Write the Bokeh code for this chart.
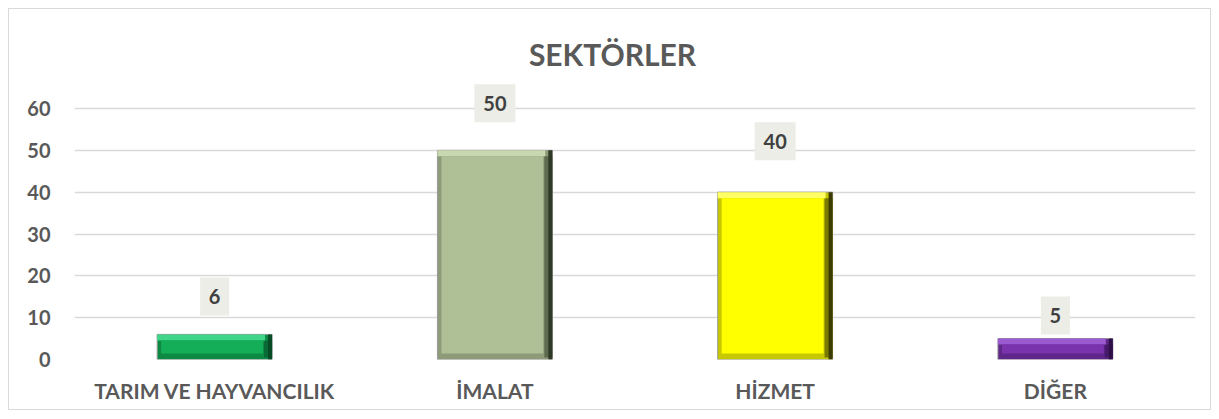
from bokeh.plotting import figure
from bokeh.models import ColumnDataSource, FactorRange, Range1d, FixedTicker, Label
from bokeh.transform import dodge
from bokeh.core.properties import value
from bokeh.embed import file_html
from bokeh.resources import INLINE
import numpy as np

# ---- data ----
categories = ["TARIM VE HAYVANCILIK", "İMALAT", "HİZMET", "DİĞER"]
values = [6, 50, 40, 5]
y_ticks = [0, 10, 20, 30, 40, 50, 60]
title_text = "SEKTÖRLER"

# ---- styles ----
face = ["#14ad58", "#afbf96", "#ffff00", "#7a32ad"]
light = ["#3fd68a", "#c8d8b0", "#ffff66", "#9b5ad0"]
mid = ["#0c8a44", "#8d9b78", "#c8c800", "#5e2688"]
shade = ["#0a6a35", "#5e6b50", "#7a7a00", "#46196a"]
dark = ["#064a26", "#2f3a26", "#3c3c00", "#2e0f48"]
label_offsets = [38, 47, 51, 23]  # px above bar top
FONT = "Lato"
TXT = "#595959"

W, H = 1203, 402
LEFT, RIGHT, TOP, BOTTOM = 65, 17, 12, 52
frame_w = W - LEFT - RIGHT
frame_h = H - TOP - BOTTOM
ppu_y = 251 / 60.0
y_end = frame_h / ppu_y
ppu_x = frame_w / len(categories)
bar_w = 0.41
px = 1.0 / ppu_x
py = 1.0 / ppu_y

p = figure(x_range=FactorRange(*categories), y_range=Range1d(0, y_end),
           width=W, height=H, output_backend="svg", toolbar_location=None,
           min_border_left=LEFT, min_border_right=RIGHT,
           min_border_top=TOP, min_border_bottom=BOTTOM)
p.styles = {"border": "1px solid #d9d9d9", "margin-left": "8px", "margin-top": "8px"}
p.outline_line_color = None
p.background_fill_color = "white"
p.border_fill_color = "white"

p.xgrid.grid_line_color = None
p.ygrid.grid_line_color = "#d9d9d9"
p.ygrid.grid_line_width = 1.5
p.yaxis.ticker = FixedTicker(ticks=y_ticks)
for ax in (p.xaxis, p.yaxis):
    ax.axis_line_color = None
    ax.major_tick_line_color = None
    ax.minor_tick_line_color = None
    ax.major_label_text_font = FONT
    ax.major_label_text_font_style = "bold"
    ax.major_label_text_color = TXT
    ax.major_label_text_font_size = "20px"
p.xaxis.major_label_text_font_size = "21px"
p.yaxis.major_label_standoff = 18
p.xaxis.major_label_standoff = 12

vals = np.array(values, dtype=float)
txt = [str(v) for v in values]
src = ColumnDataSource(dict(
    cat=categories, val=values, txt=txt,
    face=face, light=light, mid=mid, shade=shade, dark=dark,
    top_in=list(vals - 6 * py),
    lab_y=list(vals + np.array(label_offsets) * py),
    box_w=[17 + 12 * len(t) for t in txt],
))
half = bar_w / 2

# outer bevel (mid tone: left / bottom)
p.vbar(x="cat", top="val", bottom=0, width=bar_w, source=src,
       fill_color="mid", line_color="#9a9a9a", line_width=1)
# right edge: intermediate shade then darkest strip
p.vbar(x=dodge("cat", half - 4 * px, range=p.x_range), top="top_in", bottom=2 * py,
       width=8 * px, source=src, fill_color="shade", line_color=None)
p.vbar(x=dodge("cat", half - 2 * px, range=p.x_range), top="val", bottom=0,
       width=4 * px, source=src, fill_color="dark", line_color=None)
# top highlight band
p.vbar(x=dodge("cat", -3.5 * px, range=p.x_range), top="val", bottom="top_in",
       width=bar_w - 7 * px, source=src, fill_color="light", line_color=None)
# main face
p.vbar(x=dodge("cat", -2.5 * px, range=p.x_range), top="top_in", bottom=6 * py,
       width=bar_w - 13 * px, source=src, fill_color="face", line_color=None)

# data label boxes + texts
p.rect(x="cat", y="lab_y", width="box_w", height=38, width_units="screen",
       height_units="screen", source=src, fill_color="#ebede6", line_color=None)
p.text(x="cat", y="lab_y", text="txt", source=src, text_align="center",
       text_baseline="middle", text_font=value(FONT), text_font_style="bold",
       text_font_size="20px", text_color="#404040")

title_lbl = Label(x=(611 - 8 - LEFT) / ppu_x, y=(frame_h + TOP - 44) / ppu_y,
                  text=title_text, text_align="center", text_baseline="middle",
                  text_font=FONT, text_font_style="bold", text_font_size="30px",
                  text_color=TXT)
p.add_layout(title_lbl)

open("out.html", "w").write(file_html(p, INLINE))
